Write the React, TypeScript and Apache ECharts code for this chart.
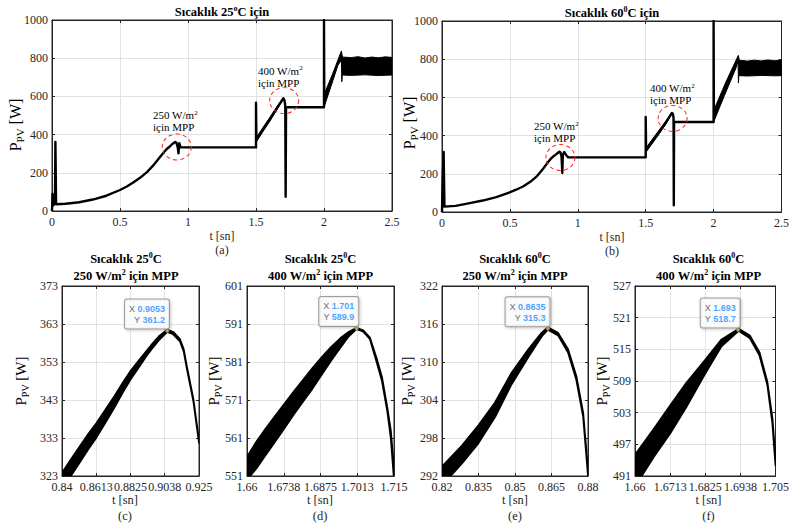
import React, { useEffect, useRef } from 'react';
import * as echarts from 'echarts';

type Pt = [number, number];

// ---------------- (a) 25 °C, whole run ----------------
const tA = [0, 0.004, 0.01, 0.022, 0.025, 0.03, 0.1, 0.2, 0.3, 0.4, 0.5, 0.55, 0.6, 0.65, 0.7, 0.75, 0.8, 0.84, 0.8613, 0.8825, 0.9053, 0.915, 0.925, 0.93, 0.936, 0.946, 1.5, 1.5, 1.503, 1.55, 1.6, 1.65, 1.701, 1.705, 1.71, 1.715, 1.718, 1.721, 2.0, 2.0, 2.002];
const pA = [0, 90, 30, 40, 362, 35, 38, 46, 60, 80, 110, 128, 150, 175, 205, 243, 288, 322, 335, 349.5, 361.2, 357, 332, 302, 355, 333, 333, 567, 372, 425, 478, 535, 589.9, 588, 578, 551, 75, 543, 543, 1000, 600];
const rampA_upper: Pt[] = [[1.503, 385], [1.55, 436], [1.6, 488], [1.65, 542], [1.7, 593]];
const rampA_lower: Pt[] = [[1.503, 362], [1.55, 415], [1.6, 468], [1.65, 526], [1.7, 584]];
const ssA_upper: Pt[] = [[2.0, 610], [2.06, 712], [2.128, 838], [2.135, 806], [2.2, 803], [2.25, 808], [2.3, 801], [2.35, 806], [2.4, 802], [2.45, 807], [2.5, 804]];
const ssA_lower: Pt[] = [[2.0, 543], [2.05, 650], [2.103, 764], [2.128, 790], [2.131, 677], [2.134, 712], [2.2, 710], [2.3, 713], [2.4, 709], [2.5, 712]];
const circlesA: Pt[] = [[0.918, 335], [1.707, 578]];

// ---------------- (b) 60 °C, whole run ----------------
const tB = [0, 0.006, 0.012, 0.018, 0.1, 0.195, 0.3, 0.4, 0.489, 0.55, 0.6, 0.65, 0.7, 0.74, 0.78, 0.8, 0.82, 0.835, 0.85, 0.8635, 0.872, 0.88, 0.886, 0.89, 0.9, 0.912, 0.929, 1.5, 1.5, 1.503, 1.55, 1.6, 1.65, 1.693, 1.7, 1.705, 1.707, 1.709, 2.0, 2.0, 2.002];
const pB = [0, 200, 314, 28, 32, 45, 60, 78, 100, 118, 135, 158, 188, 222, 260, 278, 291.5, 299, 307.5, 315.3, 312, 292, 204, 300, 314, 300, 286, 286, 497, 323, 368, 418, 470, 518.7, 514, 494, 35, 471, 471, 1000, 530];
const rampB_upper: Pt[] = [[1.503, 336], [1.55, 382], [1.6, 430], [1.65, 478], [1.693, 521]];
const rampB_lower: Pt[] = [[1.503, 314], [1.55, 362], [1.6, 410], [1.65, 462], [1.69, 510]];
const ssB_upper: Pt[] = [[2.0, 530], [2.09, 680], [2.182, 820], [2.19, 794], [2.25, 790], [2.3, 795], [2.35, 791], [2.4, 796], [2.45, 792], [2.5, 794]];
const ssB_lower: Pt[] = [[2.0, 471], [2.08, 610], [2.165, 754], [2.18, 790], [2.183, 675], [2.186, 714], [2.25, 712], [2.35, 715], [2.45, 713], [2.5, 714]];
const circlesB: Pt[] = [[0.872, 285], [1.698, 490]];

// ---------------- (c) 25 °C, 250 W/m² MPP zoom ----------------
const tC = [0.8405, 0.846, 0.8515, 0.8565, 0.8613, 0.867, 0.8725, 0.8775, 0.8825, 0.8875, 0.892, 0.896, 0.9, 0.9053, 0.909, 0.9132, 0.9155, 0.9174, 0.9215, 0.925];
const hiC = [324.1, 327.7, 331.1, 334.2, 336.9, 340.5, 344.0, 347.4, 350.6, 353.3, 355.7, 357.8, 359.7, 361.5, 360.9, 359.0, 356.4, 352.0, 343.3, 332.3];
const loC = [319.5, 323.3, 326.9, 330.2, 333.1, 337.1, 341.0, 344.8, 348.4, 351.5, 354.3, 356.6, 358.7, 360.9, 360.3, 358.4, 355.8, 351.4, 342.7, 331.7];
const mppC: Pt = [0.9053, 361.2];

// ---------------- (d) 25 °C, 400 W/m² MPP zoom ----------------
const tD = [1.66, 1.6635, 1.667, 1.6705, 1.674, 1.6775, 1.681, 1.6845, 1.688, 1.6915, 1.695, 1.698, 1.701, 1.7035, 1.706, 1.7085, 1.7105, 1.7125, 1.7138, 1.715];
const hiD = [556, 560, 563.5, 566.8, 570, 573.2, 576.3, 579.4, 582.3, 585, 587.3, 588.9, 590, 589.3, 587.4, 582, 577, 569, 563, 553];
const loD = [550, 553, 556.5, 560, 563.6, 567.2, 570.6, 574, 577.7, 581.4, 584.8, 587.7, 589.7, 589, 587, 581, 576, 568, 561, 550];
const mppD: Pt = [1.701, 589.9];

// ---------------- (e) 60 °C, 250 W/m² MPP zoom ----------------
const tE = [0.82, 0.8282, 0.835, 0.8418, 0.8486, 0.8555, 0.8609, 0.8635, 0.8677, 0.8718, 0.8752, 0.878, 0.88];
const hiE = [293.5, 296.8, 300, 303.6, 308.3, 312, 314.6, 315.5, 314.6, 312, 307.8, 302, 293];
const loE = [290.5, 294, 297.2, 301.3, 306.5, 310.8, 314, 315.1, 314.2, 311.5, 307.2, 301.4, 292];
const mppE: Pt = [0.8635, 315.3];

// ---------------- (f) 60 °C, 400 W/m² MPP zoom ----------------
const tF = [1.66, 1.6661, 1.6712, 1.6764, 1.6825, 1.6876, 1.6932, 1.6968, 1.6999, 1.7024, 1.704, 1.705];
const hiF = [495, 500, 504.3, 508.6, 513, 516.8, 518.9, 517.6, 514.4, 508.8, 502, 494.5];
const loF = [489, 494.7, 499, 504, 510.4, 515.5, 518.5, 517.1, 513.8, 508.2, 501, 493];
const mppF: Pt = [1.693, 518.7];

// ---------------- ticks ----------------
const xTicksTop = [0, 0.5, 1, 1.5, 2, 2.5];
const xLabelsTop = ['0', '0.5', '1', '1.5', '2', '2.5'];
const yTicksTop = [0, 200, 400, 600, 800, 1000];
const xTicksC = [0.84, 0.86125, 0.8825, 0.90375, 0.925];
const xLabelsC = ['0.84', '0.8613', '0.8825', '0.9038', '0.925'];
const yTicksC = [323, 333, 343, 353, 363, 373];
const xTicksD = [1.66, 1.67375, 1.6875, 1.70125, 1.715];
const xLabelsD = ['1.66', '1.6738', '1.6875', '1.7013', '1.715'];
const yTicksD = [551, 561, 571, 581, 591, 601];
const xTicksE = [0.82, 0.835, 0.85, 0.865, 0.88];
const xLabelsE = ['0.82', '0.835', '0.85', '0.865', '0.88'];
const yTicksE = [292, 298, 304, 310, 316, 322];
const xTicksF = [1.66, 1.67125, 1.6825, 1.69375, 1.705];
const xLabelsF = ['1.66', '1.6713', '1.6825', '1.6938', '1.705'];
const yTicksF = [491, 497, 503, 509, 515, 521, 527];

// ---------------- styling ----------------
const SERIF = 'Liberation Serif';
const SANS = 'Liberation Sans';
const AX = '#262626';
const GRIDC = '#e2e2e2';

const grids = [
  { left: 52, top: 20, width: 340, height: 191 },
  { left: 442, top: 21, width: 340, height: 191 },
  { left: 62, top: 286, width: 137, height: 190 },
  { left: 247, top: 286, width: 147, height: 190 },
  { left: 442, top: 286, width: 146, height: 190 },
  { left: 635, top: 286, width: 147, height: 190 },
];

const panels = [
  { xt: xTicksTop, xl: xLabelsTop, yt: yTicksTop },
  { xt: xTicksTop, xl: xLabelsTop, yt: yTicksTop },
  { xt: xTicksC, xl: xLabelsC, yt: yTicksC },
  { xt: xTicksD, xl: xLabelsD, yt: yTicksD },
  { xt: xTicksE, xl: xLabelsE, yt: yTicksE },
  { xt: xTicksF, xl: xLabelsF, yt: yTicksF },
];

const zip = (t: number[], p: number[]): Pt[] => t.map((v, i) => [v, p[i]] as Pt);
const closeBand = (upper: Pt[], lower: Pt[]): Pt[] => [...upper, ...lower.slice().reverse()];

function nearestLabel(ticks: number[], labels: string[]) {
  return (v: number) => {
    let best = 0;
    for (let i = 1; i < ticks.length; i++) {
      if (Math.abs(ticks[i] - v) < Math.abs(ticks[best] - v)) best = i;
    }
    return labels[best];
  };
}

function makeX(i: number, ticks: number[], labels: string[], primary: boolean) {
  const n = ticks.length;
  return {
    type: 'value',
    gridIndex: i,
    position: primary ? 'bottom' : 'top',
    min: ticks[0],
    max: ticks[n - 1],
    interval: (ticks[n - 1] - ticks[0]) / (n - 1),
    axisLine: { show: true, onZero: false, lineStyle: { color: AX, width: 1 } },
    axisTick: { show: true, inside: true, length: 3, lineStyle: { color: AX } },
    axisLabel: {
      show: primary,
      color: AX,
      fontFamily: SERIF,
      fontSize: 12,
      margin: 5,
      formatter: nearestLabel(ticks, labels),
    },
    splitLine: { show: primary, lineStyle: { color: GRIDC, width: 1 } },
  };
}

function makeY(i: number, ticks: number[], primary: boolean) {
  const n = ticks.length;
  return {
    type: 'value',
    gridIndex: i,
    position: primary ? 'left' : 'right',
    min: ticks[0],
    max: ticks[n - 1],
    interval: (ticks[n - 1] - ticks[0]) / (n - 1),
    axisLine: { show: true, onZero: false, lineStyle: { color: AX, width: 1 } },
    axisTick: { show: true, inside: true, length: 3, lineStyle: { color: AX } },
    axisLabel: {
      show: primary,
      color: AX,
      fontFamily: SERIF,
      fontSize: 12,
      margin: 4,
      formatter: (v: number) => String(Math.round(v)),
    },
    splitLine: { show: primary, lineStyle: { color: GRIDC, width: 1 } },
  };
}

function bandSeries(i: number, poly: Pt[], stroke: number) {
  return {
    type: 'custom',
    xAxisIndex: i,
    yAxisIndex: i,
    clip: true,
    silent: true,
    z: 3,
    data: [poly[0]],
    renderItem: (_params: any, api: any) => {
      const pts = poly.map((p) => api.coord(p));
      return {
        type: 'polygon',
        shape: { points: pts },
        style: { fill: '#000', stroke: '#000', lineWidth: stroke, lineJoin: 'round' },
      };
    },
  };
}

function mainLine(i: number, data: Pt[], circles: Pt[]) {
  return {
    type: 'line',
    xAxisIndex: i,
    yAxisIndex: i,
    data,
    symbol: 'none',
    showSymbol: false,
    clip: true,
    silent: true,
    z: 3,
    lineStyle: { color: '#000', width: 2.4, join: 'round' },
    markPoint: {
      silent: true,
      symbol: 'circle',
      symbolSize: [29, 26],
      label: { show: false },
      itemStyle: { color: 'rgba(0,0,0,0)', borderColor: '#ff2a2a', borderWidth: 1, borderType: [4, 3] },
      data: circles.map((c) => ({ coord: c })),
    },
  };
}

const tipRich = {
  k: { color: '#404040', fontFamily: SANS, fontSize: 9, lineHeight: 11 },
  v: { color: '#1a8cff', fontFamily: SANS, fontSize: 9, fontWeight: 'bold', lineHeight: 11 },
};

function tipSeries(i: number, mpp: Pt) {
  return {
    type: 'scatter',
    xAxisIndex: i,
    yAxisIndex: i,
    data: [mpp],
    symbolSize: 4,
    silent: true,
    z: 10,
    itemStyle: { color: '#f2e46b', borderColor: '#333', borderWidth: 0.6 },
    label: {
      show: true,
      position: [4, 0],
      align: 'right',
      verticalAlign: 'bottom',
      formatter: (p: any) => `{k|X }{v|${p.value[0]}}\n{k|Y }{v|${p.value[1]}}`,
      rich: tipRich,
      backgroundColor: '#fff',
      borderColor: '#8a8a8a',
      borderWidth: 1,
      borderRadius: 2,
      padding: [4, 4, 3, 4],
      shadowColor: 'rgba(0,0,0,0.25)',
      shadowBlur: 3,
      shadowOffsetX: 1,
      shadowOffsetY: 1,
    },
  };
}

// ---------------- texts ----------------
const titleRich = {
  b: { fontFamily: SERIF, fontSize: 12.5, fontWeight: 'bold', color: '#000', lineHeight: 16, verticalAlign: 'middle' },
  s: { fontFamily: SERIF, fontSize: 8, fontWeight: 'bold', color: '#000', lineHeight: 8, verticalAlign: 'top' },
};
const noteRich = {
  n: { fontFamily: SERIF, fontSize: 11, color: '#262626', lineHeight: 12, verticalAlign: 'middle' },
  s: { fontFamily: SERIF, fontSize: 7, color: '#262626', lineHeight: 7, verticalAlign: 'top' },
};

function txt(x: number, y: number, text: string, rich: any, align = 'center', rotation = 0) {
  return {
    type: 'text',
    x,
    y,
    rotation,
    silent: true,
    z: 20,
    style: { text, rich, align, verticalAlign: 'middle' },
  };
}

function plainTxt(x: number, y: number, text: string, size: number) {
  return {
    type: 'text',
    x,
    y,
    silent: true,
    z: 20,
    style: { text, fontFamily: SERIF, fontSize: size, fill: '#262626', align: 'center', verticalAlign: 'middle' },
  };
}

function yName(x: number, y: number, big: boolean) {
  const rich = {
    p: { fontFamily: SERIF, fontSize: big ? 16 : 15, color: '#262626', lineHeight: big ? 20 : 18, verticalAlign: 'middle' },
    u: { fontFamily: SERIF, fontSize: big ? 11 : 10, color: '#262626', lineHeight: big ? 11 : 10, verticalAlign: 'bottom' },
  };
  return txt(x, y, '{p|P}{u|PV}{p| [W]}', rich, 'center', Math.PI / 2);
}

function buildOption() {
  const xAxes: any[] = [];
  const yAxes: any[] = [];
  panels.forEach((p, i) => {
    xAxes.push(makeX(i, p.xt, p.xl, true));
    yAxes.push(makeY(i, p.yt, true));
  });
  panels.forEach((p, i) => {
    xAxes.push(makeX(i, p.xt, p.xl, false));
    yAxes.push(makeY(i, p.yt, false));
  });

  const series: any[] = [
    mainLine(0, zip(tA, pA), circlesA),
    bandSeries(0, closeBand(rampA_upper, rampA_lower), 1),
    bandSeries(0, closeBand(ssA_upper, ssA_lower), 1),
    mainLine(1, zip(tB, pB), circlesB),
    bandSeries(1, closeBand(rampB_upper, rampB_lower), 1),
    bandSeries(1, closeBand(ssB_upper, ssB_lower), 1),
    bandSeries(2, closeBand(zip(tC, hiC), zip(tC, loC)), 1.8),
    tipSeries(2, mppC),
    bandSeries(3, closeBand(zip(tD, hiD), zip(tD, loD)), 1.8),
    tipSeries(3, mppD),
    bandSeries(4, closeBand(zip(tE, hiE), zip(tE, loE)), 1.8),
    tipSeries(4, mppE),
    bandSeries(5, closeBand(zip(tF, hiF), zip(tF, loF)), 1.8),
    tipSeries(5, mppF),
  ];

  const graphic: any[] = [
    // top titles
    txt(222, 12, '{b|Sıcaklık 25}{s|o}{b|C için}', titleRich),
    txt(612, 13, '{b|Sıcaklık 60}{s|0}{b|C için}', titleRich),
    // bottom titles
    txt(126, 259, '{b|Sıcaklık 25}{s|0}{b|C}', titleRich),
    txt(126, 276, '{b|250 W/m}{s|2}{b| için MPP}', titleRich),
    txt(320.5, 259, '{b|Sıcaklık 25}{s|0}{b|C}', titleRich),
    txt(320.5, 276, '{b|400 W/m}{s|2}{b| için MPP}', titleRich),
    txt(515, 259, '{b|Sıcaklık 60}{s|0}{b|C}', titleRich),
    txt(515, 276, '{b|250 W/m}{s|2}{b| için MPP}', titleRich),
    txt(708.5, 259, '{b|Sıcaklık 60}{s|0}{b|C}', titleRich),
    txt(708.5, 276, '{b|400 W/m}{s|2}{b| için MPP}', titleRich),
    // x axis names and panel letters
    plainTxt(222, 235.5, 't [sn]', 12),
    plainTxt(222, 249.5, '(a)', 12),
    plainTxt(612, 236.5, 't [sn]', 12),
    plainTxt(612, 250.5, '(b)', 12),
    plainTxt(125, 500, 't [sn]', 12.5),
    plainTxt(125, 515.5, '(c)', 12.5),
    plainTxt(320, 500, 't [sn]', 12.5),
    plainTxt(320, 515.5, '(d)', 12.5),
    plainTxt(515, 500, 't [sn]', 12.5),
    plainTxt(515, 515.5, '(e)', 12.5),
    plainTxt(708.5, 500, 't [sn]', 12.5),
    plainTxt(708.5, 515.5, '(f)', 12.5),
    // y names
    yName(15, 125, true),
    yName(409, 123, true),
    yName(21, 381, false),
    yName(214, 381, false),
    yName(407, 381, false),
    yName(602, 381, false),
    // annotations
    txt(153, 115, '{n|250 W/m}{s|2}', noteRich, 'left'),
    txt(153, 127, '{n|için MPP}', noteRich, 'left'),
    txt(258, 70.5, '{n|400 W/m}{s|2}', noteRich, 'left'),
    txt(258, 82.5, '{n|için MPP}', noteRich, 'left'),
    txt(534, 126, '{n|250 W/m}{s|2}', noteRich, 'left'),
    txt(534, 138, '{n|için MPP}', noteRich, 'left'),
    txt(650, 88, '{n|400 W/m}{s|2}', noteRich, 'left'),
    txt(650, 100, '{n|için MPP}', noteRich, 'left'),
  ];

  return {
    animation: false,
    backgroundColor: '#fff',
    grid: grids.map((g) => ({ ...g, show: true, borderColor: AX, borderWidth: 1, backgroundColor: '#fff' })),
    xAxis: xAxes,
    yAxis: yAxes,
    series,
    graphic,
  };
}

export default function App() {
  const ref = useRef<HTMLDivElement>(null);
  useEffect(() => {
    document.body.style.margin = '0';
    const chart = echarts.init(ref.current as HTMLDivElement, undefined, { renderer: 'svg' });
    chart.setOption(buildOption() as any);
    return () => chart.dispose();
  }, []);
  return <div ref={ref} style={{ width: 792, height: 525, background: '#fff' }} />;
}
